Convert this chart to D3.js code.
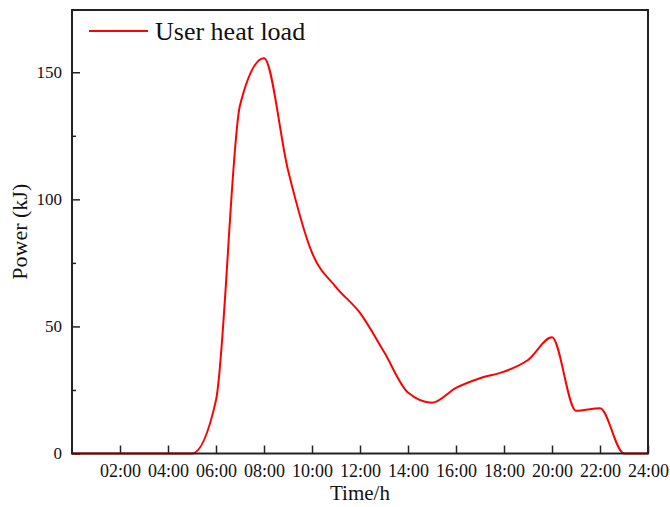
<!DOCTYPE html>
<html>
<head>
<meta charset="utf-8">
<script src="https://cdn.jsdelivr.net/npm/d3@7"></script>
<style>
  html, body { margin: 0; padding: 0; background: #fff; }
  svg { display: block; }
  text { font-family: "Liberation Serif", "Times New Roman", serif; fill: #111; }
</style>
</head>
<body>
<svg id="chart" width="670" height="507"></svg>
<script>
// Hourly user heat load over one day
const hours = [0, 1, 2, 3, 4, 5, 6, 7, 8, 9, 10, 11, 12, 13, 14, 15, 16, 17, 18, 19, 20, 21, 22, 23, 24];
const heatLoad = [0, 0, 0, 0, 0, 0, 21, 137, 155.5, 111.5, 79, 65.5, 55.3, 40, 24, 20, 25.8, 29.6, 32.2, 36.8, 45.7, 16.8, 17.8, 0, 0];
const xTicks = [2, 4, 6, 8, 10, 12, 14, 16, 18, 20, 22, 24];
const xTickLabels = ["02:00", "04:00", "06:00", "08:00", "10:00", "12:00", "14:00", "16:00", "18:00", "20:00", "22:00", "24:00"];
const yTicks = [0, 50, 100, 150];
const yMinorTicks = [25, 75, 125];
const seriesName = "User heat load";
const xTitle = "Time/h";
const yTitle = "Power (kJ)";

const svg = d3.select("#chart");
const m = { left: 72, right: 22, top: 10, bottom: 53.5 };
const W = 670, H = 507;
const yMax = 174.5;
const x = d3.scaleLinear().domain([0, 24]).range([m.left, W - m.right]);
const y = d3.scaleLinear().domain([0, yMax]).range([H - m.bottom, m.top]);

const axisColor = "#222";

// X axis: ticks point into the plot
const xAxis = svg.append("g")
  .attr("transform", `translate(0,${y(0)})`)
  .call(d3.axisBottom(x).tickValues(xTicks).tickSizeInner(-8).tickSizeOuter(0)
    .tickFormat((d, i) => xTickLabels[i]));
xAxis.select(".domain").remove();
xAxis.selectAll(".tick line").attr("stroke", axisColor).attr("stroke-width", 1.5);
xAxis.selectAll(".tick text").attr("y", 11).attr("dy", "0.71em")
  .style("font-size", "18px").attr("fill", "#111");

// Y axis with major and minor inward ticks
const yAxis = svg.append("g")
  .attr("transform", `translate(${x(0)},0)`)
  .call(d3.axisLeft(y).tickValues(yTicks).tickSizeInner(-8).tickSizeOuter(0));
yAxis.select(".domain").remove();
yAxis.selectAll(".tick line").attr("stroke", axisColor).attr("stroke-width", 1.5);
yAxis.selectAll(".tick text").attr("x", -10).style("font-size", "17px").attr("fill", "#111");

const yMinor = svg.append("g")
  .attr("transform", `translate(${x(0)},0)`)
  .call(d3.axisLeft(y).tickValues(yMinorTicks).tickSizeInner(-4).tickSizeOuter(0).tickFormat(""));
yMinor.select(".domain").remove();
yMinor.selectAll(".tick line").attr("stroke", axisColor).attr("stroke-width", 1.5);

// Data line
const line = d3.line()
  .x((d, i) => x(hours[i]))
  .y(d => y(d))
  .curve(d3.curveMonotoneX);
svg.append("path")
  .datum(heatLoad)
  .attr("d", line)
  .attr("fill", "none")
  .attr("stroke", "#ff0000")
  .attr("stroke-width", 2);

// Plot frame
svg.append("rect")
  .attr("x", x(0)).attr("y", y(yMax))
  .attr("width", x(24) - x(0)).attr("height", y(0) - y(yMax))
  .attr("fill", "none").attr("stroke", axisColor).attr("stroke-width", 2);

// Legend
const leg = svg.append("g");
leg.append("line")
  .attr("x1", 89).attr("x2", 148).attr("y1", 31).attr("y2", 31)
  .attr("stroke", "#ff0000").attr("stroke-width", 2);
leg.append("text").attr("x", 155).attr("y", 40).style("font-size", "26px").text(seriesName);

// Axis titles
svg.append("text")
  .attr("x", (x(0) + x(24)) / 2).attr("y", 500)
  .attr("text-anchor", "middle").style("font-size", "21px").text(xTitle);
svg.append("text")
  .attr("transform", `translate(27,${(y(0) + y(yMax)) / 2}) rotate(-90)`)
  .attr("text-anchor", "middle").style("font-size", "22px").text(yTitle);
</script>
</body>
</html>
